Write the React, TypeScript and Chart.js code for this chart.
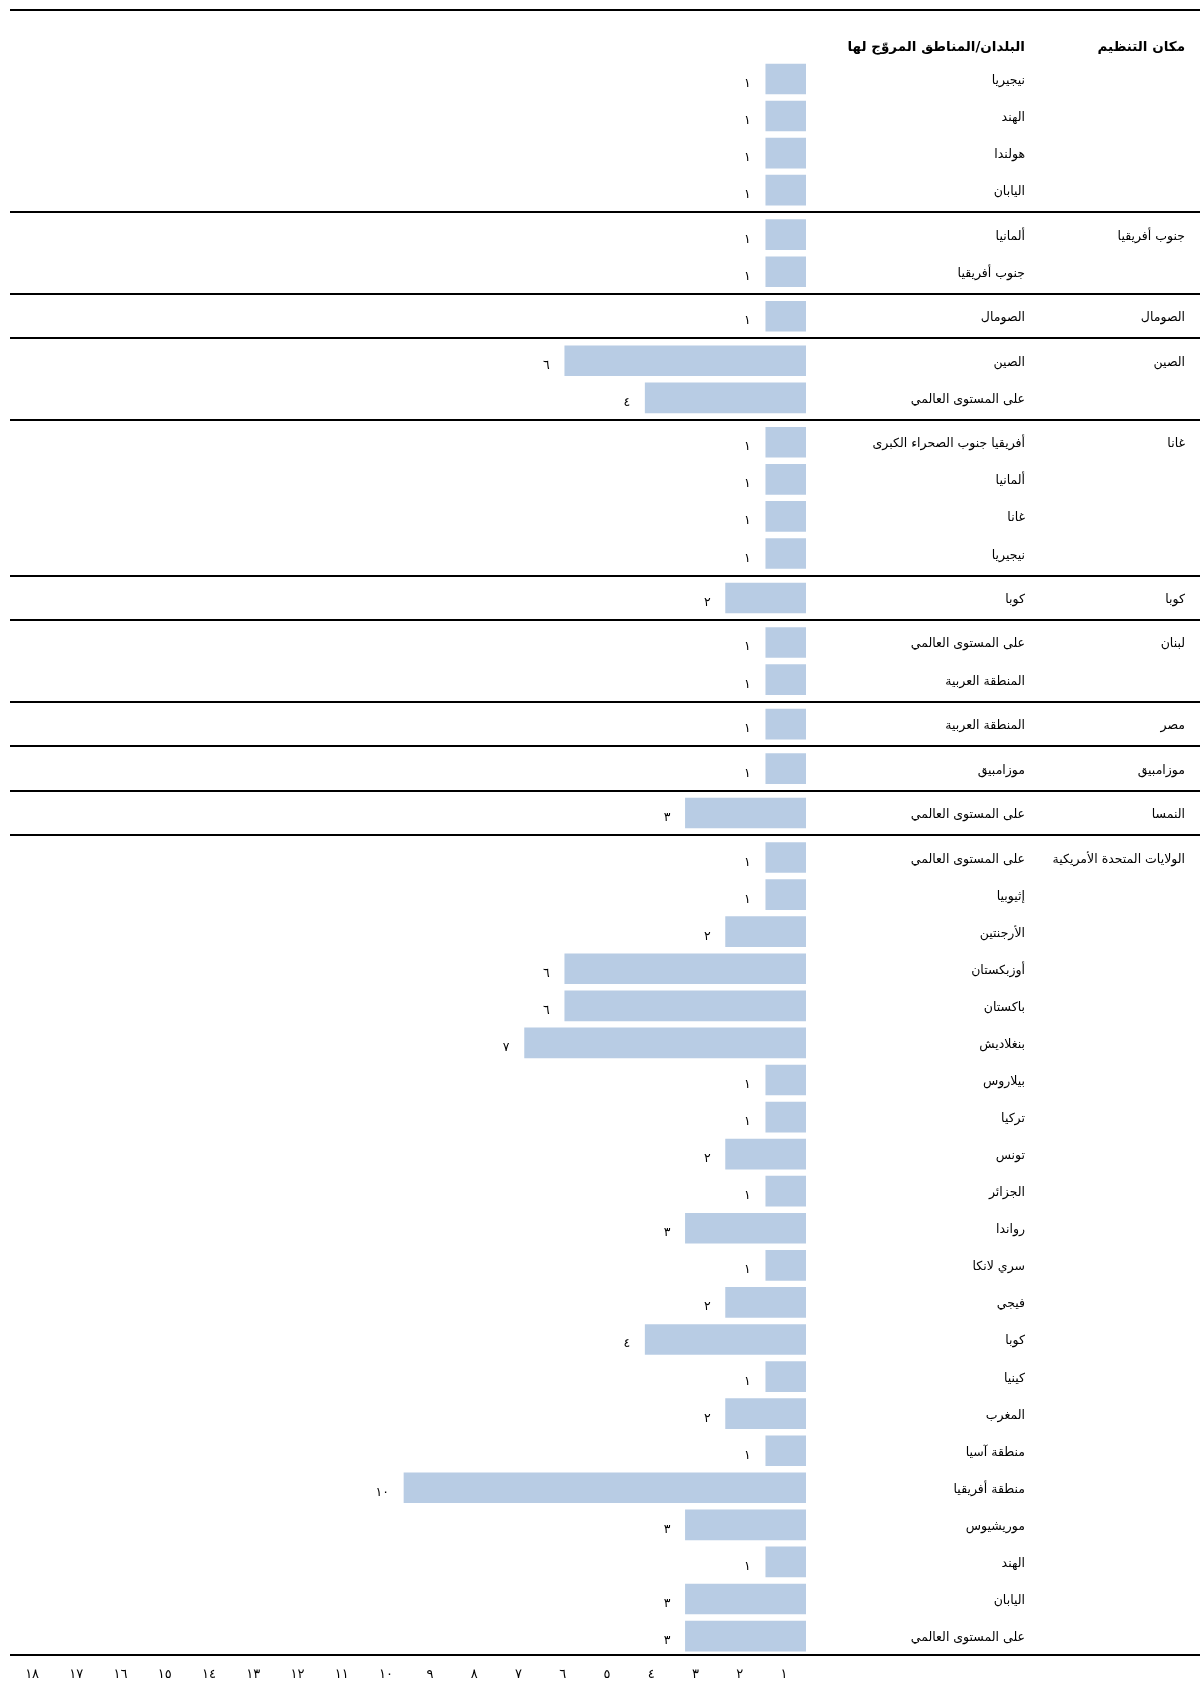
import React, { useEffect, useRef } from 'react';
import { Chart, registerables } from 'chart.js';

Chart.register(...registerables);

const headerOrg = 'مكان التنظيم';
const headerCountry = 'البلدان/المناطق المروّج لها';

const orgs = [
  '',
  'جنوب أفريقيا',
  'الصومال',
  'الصين',
  'غانا',
  'كوبا',
  'لبنان',
  'مصر',
  'موزامبيق',
  'النمسا',
  'الولايات المتحدة الأمريكية',
];

const groupSizes = [4, 2, 1, 2, 4, 1, 2, 1, 1, 1, 22];

const countries = [
  'نيجيريا', 'الهند', 'هولندا', 'اليابان',
  'ألمانيا', 'جنوب أفريقيا',
  'الصومال',
  'الصين', 'على المستوى العالمي',
  'أفريقيا جنوب الصحراء الكبرى', 'ألمانيا', 'غانا', 'نيجيريا',
  'كوبا',
  'على المستوى العالمي', 'المنطقة العربية',
  'المنطقة العربية',
  'موزامبيق',
  'على المستوى العالمي',
  'على المستوى العالمي', 'إثيوبيا', 'الأرجنتين', 'أوزبكستان', 'باكستان', 'بنغلاديش',
  'بيلاروس', 'تركيا', 'تونس', 'الجزائر', 'رواندا', 'سري لانكا', 'فيجي', 'كوبا',
  'كينيا', 'المغرب', 'منطقة آسيا', 'منطقة أفريقيا', 'موريشيوس', 'الهند', 'اليابان',
  'على المستوى العالمي',
];

const values = [
  1, 1, 1, 1,
  1, 1,
  1,
  6, 4,
  1, 1, 1, 1,
  2,
  1, 1,
  1,
  1,
  3,
  1, 1, 2, 6, 6, 7, 1, 1, 2, 1, 3, 1, 2, 4, 1, 2, 1, 10, 3, 1, 3, 3,
];

const tickLabels = ['١', '٢', '٣', '٤', '٥', '٦', '٧', '٨', '٩', '١٠', '١١', '١٢', '١٣', '١٤', '١٥', '١٦', '١٧', '١٨'];

const FONT = '"DejaVu Sans", sans-serif';
const BAR_COLOR = '#B8CCE4';
const GROUP_GAP = 0.2;

const groupOf: number[] = [];
groupSizes.forEach((n, g) => {
  for (let i = 0; i < n; i++) groupOf.push(g);
});
const positions = countries.map((_, i) => i + groupOf[i] * GROUP_GAP);
const groupStarts: number[] = [];
{
  let s = 0;
  groupSizes.forEach((n) => {
    groupStarts.push(s);
    s += n;
  });
}

const toArabicDigits = (v: number) => String(v).replace(/\d/g, (d) => '٠١٢٣٤٥٦٧٨٩'[Number(d)]);

const COUNTRY_RIGHT = 1025;
const ORG_RIGHT = 1185;

const overlayPlugin = {
  id: 'overlay',
  afterDatasetsDraw(chart: any) {
    const ctx = chart.ctx;
    const ys = chart.scales.y;
    const xs = chart.scales.x;
    const area = chart.chartArea;
    const W = chart.width;
    ctx.save();
    ctx.fillStyle = '#000';
    // horizontal rules
    const rule = (py: number) => ctx.fillRect(area.left, Math.round(py) - 1, W - area.left, 2);
    rule(area.top);
    rule(area.bottom);
    for (let g = 1; g < groupSizes.length; g++) {
      const i = groupStarts[g];
      const mid = (positions[i - 1] + positions[i]) / 2;
      rule(ys.getPixelForValue(mid));
    }
    ctx.direction = 'rtl';
    ctx.textBaseline = 'alphabetic';
    ctx.textAlign = 'right';
    // header
    ctx.font = `bold 13.5px ${FONT}`;
    const hy = ys.getPixelForValue(-0.9) + 5;
    ctx.fillText(headerOrg, ORG_RIGHT, hy);
    ctx.fillText(headerCountry, COUNTRY_RIGHT, hy);
    // rows
    ctx.font = `12.5px ${FONT}`;
    countries.forEach((c, i) => {
      const py = ys.getPixelForValue(positions[i]);
      ctx.fillText(c, COUNTRY_RIGHT, py + 5);
      const px = xs.getPixelForValue(values[i]);
      ctx.fillText(toArabicDigits(values[i]), px - 15, py + 8);
    });
    groupStarts.forEach((s, g) => {
      if (!orgs[g]) return;
      ctx.fillText(orgs[g], ORG_RIGHT, ys.getPixelForValue(positions[s]) + 5);
    });
    ctx.restore();
  },
};

export default function App() {
  const ref = useRef<HTMLCanvasElement | null>(null);
  useEffect(() => {
    if (!ref.current) return;
    const chart = new Chart(ref.current, {
      type: 'bar',
      data: {
        datasets: [
          {
            data: countries.map((_, i) => ({ x: values[i], y: positions[i] })),
            backgroundColor: BAR_COLOR,
            borderWidth: 0,
            barThickness: 30,
            xAxisID: 'x',
            yAxisID: 'y',
          },
        ],
      },
      options: {
        indexAxis: 'y',
        animation: false,
        responsive: true,
        maintainAspectRatio: false,
        layout: { padding: { left: 10, top: 10, right: 394, bottom: 0 } },
        plugins: { legend: { display: false }, tooltip: { enabled: false } },
        scales: {
          x: { type: 'linear', display: false, reverse: true, min: 0, max: 19.8, bounds: 'data', offset: false },
          x2: {
            type: 'category',
            labels: tickLabels,
            position: 'bottom',
            reverse: true,
            offset: true,
            grid: { display: false },
            border: { display: false },
            ticks: { color: '#000', font: { family: FONT, size: 13 }, padding: 4, maxRotation: 0, autoSkip: false },
            afterFit: (s: any) => {
              s.height = 28;
            },
          },
          y: {
            type: 'linear',
            display: false,
            reverse: true,
            offset: false,
            bounds: 'data',
            grace: 0,
            min: -1.86,
            max: positions[positions.length - 1] + 0.51,
          },
        },
      },
      plugins: [overlayPlugin],
    } as any);
    return () => chart.destroy();
  }, []);
  return (
    <div style={{ position: 'absolute', left: 0, top: 0, width: '1200px', height: '1683px', background: '#fff' }}>
      <canvas ref={ref} />
    </div>
  );
}
